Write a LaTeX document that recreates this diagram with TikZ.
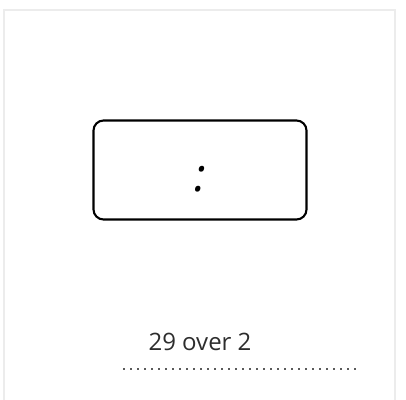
\documentclass[tikz,border=0pt]{standalone}
\usepackage{fontspec}
\setmainfont{Open Sans}
\usepackage{xcolor}
\usetikzlibrary{positioning}
\definecolor{framegray}{RGB}{236,236,236}
\definecolor{textgray}{RGB}{45,45,45}
\definecolor{dotgray}{RGB}{90,90,90}

\begin{document}
\begin{tikzpicture}[
  x=1pt, y=-1pt,
  frame/.style={draw=framegray, line width=2.2pt},
  ratiobox/.style={rectangle, rounded corners=10pt, draw, line width=2.1pt,
                   minimum width=213pt, minimum height=99pt,
                   inner sep=0pt, font=\fontsize{46}{46}\selectfont\itshape},
  caption/.style={font=\fontsize{24}{28}\selectfont, text=textgray, inner sep=0pt},
  dotline/.style={draw=dotgray, line width=1.6pt, dash pattern=on 1.6pt off 5.4pt}
]
  \useasboundingbox (0,0) rectangle (406,399);
  \draw[frame] (4,401) |- (395,10) -- (395,401);

  \node[ratiobox] (ratio) at (200,170) {\raisebox{-21pt}[0pt][0pt]{:}};
  \node[caption]  (value) at (200,342) {29 over 2};

  \coordinate (lineL) at (123,369);
  \coordinate (lineR) at (357,369);
  \draw[dotline] (lineL) -- (lineR);
\end{tikzpicture}
\end{document}
